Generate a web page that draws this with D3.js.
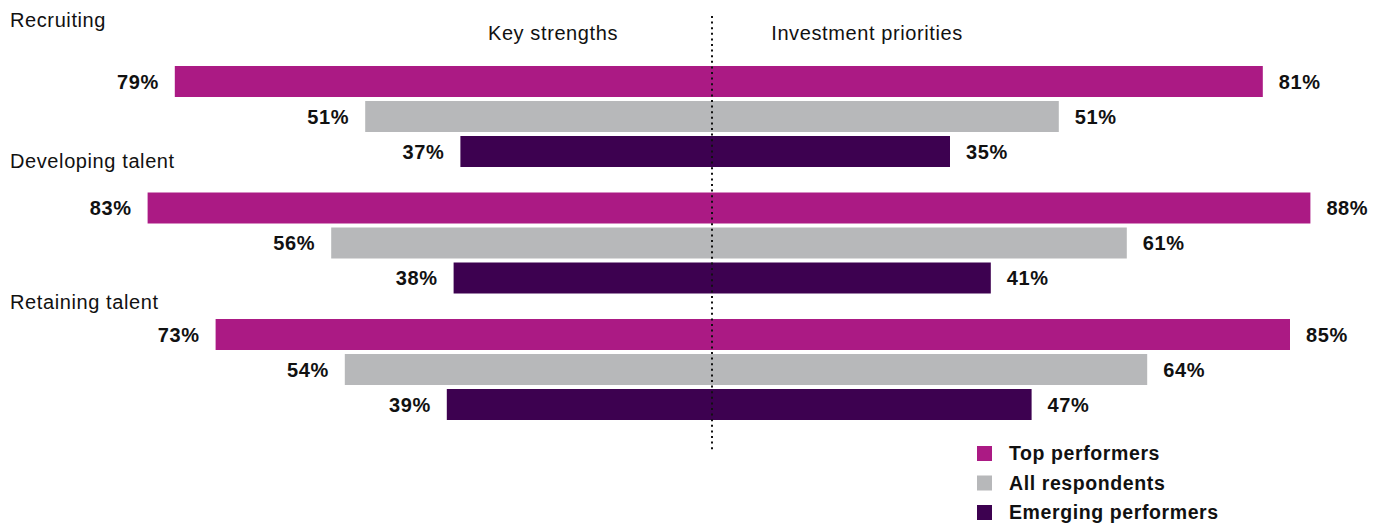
<!DOCTYPE html>
<html>
<head>
<meta charset="utf-8">
<script src="https://cdn.jsdelivr.net/npm/d3@7"></script>
<style>
  html, body { margin: 0; padding: 0; background: #fff; }
  svg { display: block; font-family: "Liberation Sans", Arial, Helvetica, sans-serif; letter-spacing: 0.6px; }
</style>
</head>
<body>
<svg id="chart" width="1376" height="525"></svg>
<script>
// Talent areas and respondent groups
const categories = ["Recruiting", "Developing talent", "Retaining talent"];
const seriesNames = ["Top performers", "All respondents", "Emerging performers"];
const seriesColors = ["#ab1a84", "#b7b8ba", "#3d0150"];
const sideHeaders = ["Key strengths", "Investment priorities"];

// Share of respondents (%) — columns follow seriesNames order
const keyStrengths = [
  [79, 51, 37],   // Recruiting
  [83, 56, 38],   // Developing talent
  [73, 54, 39]    // Retaining talent
];
const investmentPriorities = [
  [81, 51, 35],
  [88, 61, 41],
  [85, 64, 47]
];

const svg = d3.select("#chart");
const cx = 712;             // axis between the two sides
const barH = 31, rowStep = 35;

// Horizontal value scales, mirrored around the centre line
const xRight = d3.scaleLinear().domain([0, 100]).range([cx, cx + 680]);
const xLeft  = d3.scaleLinear().domain([0, 100]).range([cx, cx - 680]);

// Vertical placement of each group's first bar and of its title
const yGroup = d3.scalePoint().domain(categories).range([66, 319]);
const yLabel = d3.scalePoint().domain(categories).range([27, 309]);

// Flatten into rows
const rows = [];
categories.forEach((cat, gi) => {
  seriesNames.forEach((s, si) => {
    rows.push({
      cat, series: s, si,
      left: keyStrengths[gi][si],
      right: investmentPriorities[gi][si],
      y: yGroup(cat) + si * rowStep
    });
  });
});

// Bars: left side (key strengths)
svg.append("g").selectAll("rect").data(rows).join("rect")
  .attr("x", d => xLeft(d.left))
  .attr("y", d => d.y)
  .attr("width", d => cx - xLeft(d.left))
  .attr("height", barH)
  .attr("fill", d => seriesColors[d.si]);

// Bars: right side (investment priorities)
svg.append("g").selectAll("rect").data(rows).join("rect")
  .attr("x", cx)
  .attr("y", d => d.y)
  .attr("width", d => xRight(d.right) - cx)
  .attr("height", barH)
  .attr("fill", d => seriesColors[d.si]);

// Dotted centre line
svg.append("line")
  .attr("x1", cx).attr("x2", cx)
  .attr("y1", 16).attr("y2", 452)
  .attr("stroke", "#111")
  .attr("stroke-width", 2)
  .attr("stroke-dasharray", "2 3.6");

// Value labels
svg.append("g").selectAll("text").data(rows).join("text")
  .attr("x", d => xLeft(d.left) - 16)
  .attr("y", d => d.y + barH / 2)
  .attr("dy", "0.36em")
  .attr("text-anchor", "end")
  .attr("font-size", "20px")
  .attr("font-weight", "bold")
  .attr("fill", "#111")
  .text(d => d.left + "%");

svg.append("g").selectAll("text").data(rows).join("text")
  .attr("x", d => xRight(d.right) + 16)
  .attr("y", d => d.y + barH / 2)
  .attr("dy", "0.36em")
  .attr("text-anchor", "start")
  .attr("font-size", "20px")
  .attr("font-weight", "bold")
  .attr("fill", "#111")
  .text(d => d.right + "%");

// Category labels
svg.append("g").selectAll("text").data(categories).join("text")
  .attr("x", 10)
  .attr("y", d => yLabel(d))
  .attr("font-size", "20px")
  .attr("fill", "#111")
  .text(d => d);

// Side headers
svg.append("text")
  .attr("x", 553).attr("y", 40)
  .attr("text-anchor", "middle")
  .attr("font-size", "20px")
  .attr("fill", "#111")
  .text(sideHeaders[0]);
svg.append("text")
  .attr("x", 867).attr("y", 40)
  .attr("text-anchor", "middle")
  .attr("font-size", "20px")
  .attr("fill", "#111")
  .text(sideHeaders[1]);

// Legend
const legend = svg.append("g").attr("transform", "translate(977,446)");
const li = legend.selectAll("g").data(seriesNames).join("g")
  .attr("transform", (d, i) => `translate(0,${i * 29.5})`);
li.append("rect")
  .attr("width", 15).attr("height", 15)
  .attr("fill", (d, i) => seriesColors[i]);
li.append("text")
  .attr("x", 32).attr("y", 7.5)
  .attr("dy", "0.34em")
  .attr("font-size", "19.5px")
  .attr("font-weight", "bold")
  .attr("fill", "#111")
  .text(d => d);
</script>
</body>
</html>
